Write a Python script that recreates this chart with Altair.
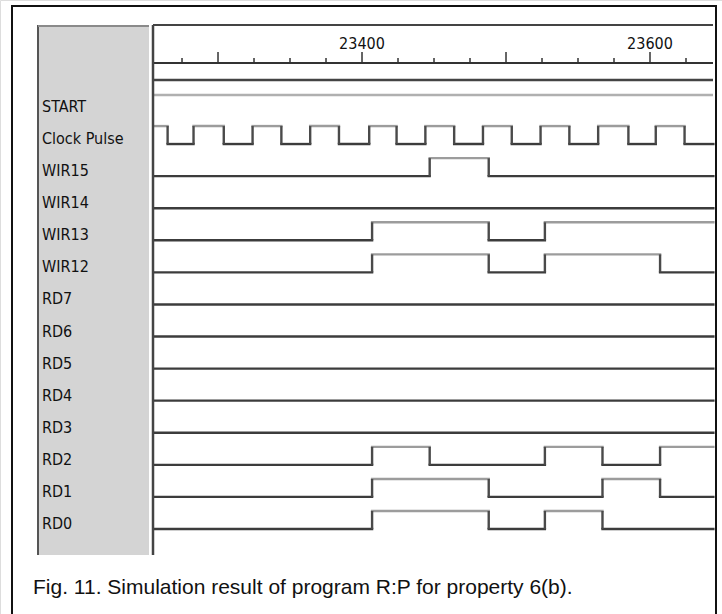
import altair as alt
import pandas as pd

# ---------------- data ----------------
signals = ["START", "Clock Pulse", "WIR15", "WIR14", "WIR13", "WIR12",
           "RD7", "RD6", "RD5", "RD4", "RD3", "RD2", "RD1", "RD0"]
# level at the left edge of the window (None = no trace shown)
initial_levels = [None, 1, 0, 0, 0, 0, 0, 0, 0, 0, 0, 0, 0, 0]

clock_toggles = [23265, 23283, 23304, 23324, 23344, 23364, 23384, 23405,
                 23424, 23444, 23464, 23484, 23504, 23524, 23544, 23564,
                 23585, 23604, 23624]
wir15_toggles = [23447, 23488]
wir14_toggles = []
wir13_toggles = [23407, 23488, 23527]
wir12_toggles = [23407, 23488, 23527, 23607]
rd7_toggles = []
rd6_toggles = []
rd5_toggles = []
rd4_toggles = []
rd3_toggles = []
rd2_toggles = [23407, 23447, 23527, 23567, 23607]
rd1_toggles = [23407, 23488, 23567, 23607]
rd0_toggles = [23407, 23488, 23527, 23567]

all_toggles = [[], clock_toggles, wir15_toggles, wir14_toggles, wir13_toggles,
               wir12_toggles, rd7_toggles, rd6_toggles, rd5_toggles,
               rd4_toggles, rd3_toggles, rd2_toggles, rd1_toggles, rd0_toggles]

window_start = 23255
window_end = 23644

major_ticks = [23300, 23400, 23500, 23600]
minor_ticks = [23275, 23325, 23350, 23375, 23425, 23450, 23475,
               23525, 23550, 23575, 23625]
label_times = [23400, 23600]
label_texts = ["23400", "23600"]

caption = "Fig. 11. Simulation result of program R:P for property 6(b)."

# ---------------- tables ----------------
HIGH = 0.56  # height of logic-1 in row units

seg_rows, edge_rows = [], []
for i, (name, lvl, tog) in enumerate(zip(signals, initial_levels, all_toggles)):
    if lvl is None:
        continue
    bounds = [window_start] + list(tog) + [window_end]
    level = lvl
    for a, b in zip(bounds[:-1], bounds[1:]):
        seg_rows.append({"signal": name, "t0": a, "t1": b, "level": level,
                         "y": i - HIGH * level})
        level = 1 - level
    for t in tog:
        edge_rows.append({"signal": name, "t": t, "ylo": i, "yhi": i - HIGH})

segs = pd.DataFrame(seg_rows)
edges = pd.DataFrame(edge_rows)
names = pd.DataFrame({"signal": signals, "row": list(range(len(signals)))})
majors = pd.DataFrame({"t": major_ticks})
minors = pd.DataFrame({"t": minor_ticks})
tlabels = pd.DataFrame({"t": label_times, "label": label_texts})
one = pd.DataFrame({"d": [0]})

W, H = 722, 614
xscale = alt.Scale(domain=[23148.6, 23650.0], range=[0, W], nice=False, zero=False)
yscale = alt.Scale(domain=[-3.49, 15.65], range=[0, H], nice=False, zero=False)

LABEL_FONT = "DejaVu Sans Condensed, DejaVu Sans, sans-serif"
DARK = "#3c3c3c"
LIGHT = "#9c9c9c"

X0, X1 = 153, 713  # waveform panel horizontal extent

# ---------------- decorations ----------------
outer = alt.Chart(one).mark_rect(fill=None, stroke="#111111", strokeWidth=2).encode(
    x=alt.value(12), x2=alt.value(716), y=alt.value(6), y2=alt.value(640))
name_panel = alt.Chart(one).mark_rect(fill="#d4d4d4").encode(
    x=alt.value(38), x2=alt.value(149), y=alt.value(25), y2=alt.value(555))
name_left = alt.Chart(one).mark_rule(color="#555555", strokeWidth=2).encode(
    x=alt.value(38), y=alt.value(25), y2=alt.value(555))
name_top = alt.Chart(one).mark_rule(color="#8a8a8a", strokeWidth=2).encode(
    x=alt.value(38), x2=alt.value(149), y=alt.value(26))
wave_left = alt.Chart(one).mark_rule(color="#444444", strokeWidth=2.5).encode(
    x=alt.value(153), y=alt.value(25), y2=alt.value(555))
wave_top = alt.Chart(one).mark_rule(color="#444444", strokeWidth=2).encode(
    x=alt.value(X0), x2=alt.value(X1), y=alt.value(25))
axis_base = alt.Chart(one).mark_rule(color="#333333", strokeWidth=2).encode(
    x=alt.value(X0), x2=alt.value(X1), y=alt.value(63))
sep_dark = alt.Chart(one).mark_rule(color="#444444", strokeWidth=2.5).encode(
    x=alt.value(X0), x2=alt.value(X1), y=alt.value(80))
sep_light = alt.Chart(one).mark_rule(color="#b0b0b0", strokeWidth=2.5).encode(
    x=alt.value(X0), x2=alt.value(X1), y=alt.value(95))

# ---------------- time axis ----------------
major_layer = alt.Chart(majors).mark_rule(color="#333333", strokeWidth=1.5).encode(
    x=alt.X("t:Q", scale=xscale, axis=None), y=alt.value(52), y2=alt.value(63))
minor_layer = alt.Chart(minors).mark_rule(color="#333333", strokeWidth=1.5).encode(
    x=alt.X("t:Q", scale=xscale, axis=None), y=alt.value(58), y2=alt.value(63))
tlabel_layer = alt.Chart(tlabels).mark_text(
    font=LABEL_FONT, fontSize=16, color="#111111", align="center", baseline="middle"
).encode(x=alt.X("t:Q", scale=xscale, axis=None), y=alt.value(44), text="label:N")

# ---------------- signals ----------------
name_layer = alt.Chart(names).mark_text(
    font=LABEL_FONT, fontSize=16, color="#111111", align="left", baseline="alphabetic"
).encode(x=alt.value(42), y=alt.Y("row:Q", scale=yscale, axis=None), text="signal:N")

seg_layer = alt.Chart(segs).mark_rule(strokeWidth=2.4, strokeCap="square").encode(
    x=alt.X("t0:Q", scale=xscale, axis=None), x2="t1:Q",
    y=alt.Y("y:Q", scale=yscale, axis=None),
    color=alt.Color("level:N", scale=alt.Scale(domain=[0, 1], range=[DARK, LIGHT]),
                    legend=None))
edge_layer = alt.Chart(edges).mark_rule(strokeWidth=2.4, color="#4a4a4a").encode(
    x=alt.X("t:Q", scale=xscale, axis=None),
    y=alt.Y("ylo:Q", scale=yscale, axis=None), y2="yhi:Q")

caption_layer = alt.Chart(pd.DataFrame({"c": [caption]})).mark_text(
    font="Liberation Sans, Arial, sans-serif", fontSize=21, color="#111111",
    align="left", baseline="middle"
).encode(x=alt.value(33), y=alt.value(588), text="c:N")

chart = alt.layer(
    name_panel, name_left, name_top, wave_top, axis_base, sep_dark, sep_light,
    major_layer, minor_layer, tlabel_layer, name_layer,
    seg_layer, edge_layer, wave_left, caption_layer, outer
).properties(
    width=W, height=H, autosize=alt.AutoSizeParams(type="none"), padding=0
).configure_view(stroke=None).configure(background="white")

chart.save("out.html", embed_options={"renderer": "svg", "actions": False})
